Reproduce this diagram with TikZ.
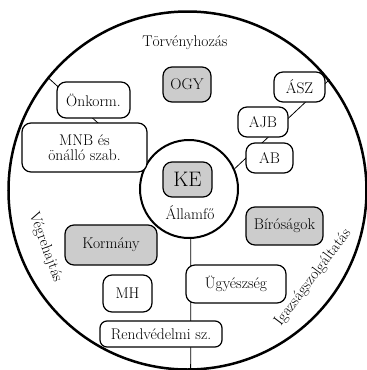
\documentclass[tikz,border=0pt]{standalone}
\usepackage{fontspec}

\tikzset{
	doboz/.style={draw, rounded corners=9pt, line width=1.2pt, fill=white, inner sep=1pt, align=center, font=\fontsize{15.5}{17}\selectfont},
	szurke/.style={doboz, fill=black!20},
	felirat/.style={font=\fontsize{15.5}{17}\selectfont},
	vonal/.style={line width=0.8pt},
}

\begin{document}
\begin{tikzpicture}[x=1pt, y=-1pt]
			\useasboundingbox (0,0) rectangle (367,370);

			% Draw the two circles
			\node[draw, circle, line width=2.5pt, minimum size=358pt, inner sep=0pt] (kor) at (187.5,190.5) {};
			\node[draw, circle, line width=2pt, minimum size=98pt, inner sep=0pt] (kozep) at (189,189) {};

			% Draw the lines between the three branches
			\draw[vonal] (kozep.152) -- (kor.141.8);
			\draw[vonal] (kozep.24) -- (kor.38.8);
			\draw[vonal] (kozep.272) -- (kor.271);

			% Names of the branches
			\node[felirat] (torv) at (185,43) {Törvényhozás};
			\node[felirat, rotate=-70] (vegre) at (45.5,247.5) {Végrehajtás};
			\node[felirat, rotate=53] (igazs) at (313,277.5) {Igazságszolgáltatás};

			% Head of state in the middle
			\node[szurke, minimum width=49pt, minimum height=35pt, font=\fontsize{21}{24}\selectfont] (ke) at (187.5,179.5) {KE};
			\node[felirat] (allamfo) at (190,213) {Államfő};

			% Upper branch
			\node[szurke, minimum width=48pt, minimum height=35pt] (ogy) at (187,84.5) {OGY};
			\node[doboz, minimum width=73pt, minimum height=36pt] (onkorm) at (93.5,100) {Önkorm.};
			\node[doboz, minimum width=125pt, minimum height=49pt] (mnb) at (84.5,147.5) {MNB és\\[-2pt]önálló szab.};
			\node[doboz, minimum width=51pt, minimum height=30pt] (asz) at (299.5,87) {ÁSZ};
			\node[doboz, minimum width=50pt, minimum height=30pt] (ajb) at (263,122) {AJB};
			\node[doboz, minimum width=47pt, minimum height=30pt] (ab) at (269.5,158) {AB};

			% Left branch
			\node[szurke, minimum width=92pt, minimum height=40pt] (korm) at (111,245) {Kormány};
			\node[doboz, minimum width=49pt, minimum height=37pt] (mh) at (127.5,293.5) {MH};
			\node[doboz, minimum width=122pt, minimum height=26pt, rounded corners=7pt] (rendv) at (161,334) {Rendvédelmi sz.};

			% Right branch
			\node[szurke, minimum width=77pt, minimum height=38pt] (birosag) at (284.5,226) {Bíróságok};
			\node[doboz, minimum width=100pt, minimum height=38pt] (ugyesz) at (236,284) {Ügyészség};

\end{tikzpicture}
\end{document}
